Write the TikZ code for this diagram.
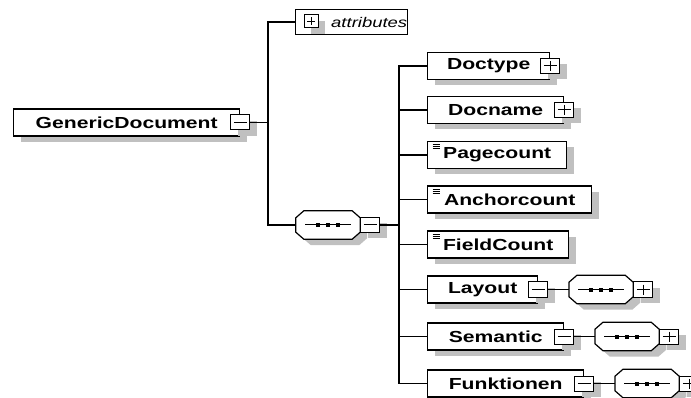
\documentclass[tikz,border=0pt]{standalone}
\usepackage{fontspec}
\newfontfamily\xsdfont[FakeStretch=1.32]{Liberation Sans}
\usetikzlibrary{positioning, shadows}
\definecolor{shadowgray}{HTML}{C0C0C0}

\tikzset{
  xsdshadow/.style={drop shadow={shadow xshift=7pt, shadow yshift=-6pt, fill=shadowgray, opacity=1}},
  element/.style={draw, line width=1.4pt, fill=white, anchor=west, minimum height=27pt,
    inner sep=0pt, font=\xsdfont\fontsize{16}{18}\selectfont\bfseries, xsdshadow},
  minusbox/.style={draw, line width=1pt, fill=white, minimum width=19pt, minimum height=15pt,
    inner sep=0pt, xsdshadow,
    path picture={\draw[line width=1pt] ([xshift=3pt]path picture bounding box.west)
      -- ([xshift=-3pt]path picture bounding box.east);}},
  plusbox/.style={draw, line width=1pt, fill=white, minimum width=19pt, minimum height=15pt,
    inner sep=0pt, xsdshadow,
    path picture={\draw[line width=1pt] ([xshift=3pt]path picture bounding box.west)
      -- ([xshift=-3pt]path picture bounding box.east);
      \draw[line width=1pt] ([yshift=-2.5pt]path picture bounding box.north)
      -- ([yshift=2.5pt]path picture bounding box.south);}},
  seqgroup/.style={minimum width=64pt, minimum height=28pt, inner sep=0pt},
  simpletype/.style={path picture={\foreach \dy in {3,5,7}
      \draw[line width=0.6pt] ([xshift=5pt,yshift=-\dy pt]path picture bounding box.north west) -- ++(7,0);}},
  link/.style={line width=1.2pt}
}

% octagon outline of a sequence compositor
\newcommand\octpath[1]{([yshift=-7pt]#1.north west) -- ([xshift=8pt]#1.north west)
  -- ([xshift=-8pt]#1.north east) -- ([yshift=-7pt]#1.north east)
  -- ([yshift=7pt]#1.south east) -- ([xshift=-8pt]#1.south east)
  -- ([xshift=8pt]#1.south west) -- ([yshift=7pt]#1.south west) -- cycle}
\newcommand\seqframe[1]{%
  \fill[shadowgray, transform canvas={shift={(7pt,-6pt)}}] \octpath{#1};
  \filldraw[fill=white, line width=1.2pt] \octpath{#1};
  \draw[line width=1pt] ([xshift=-23pt]#1.center) -- ([xshift=23pt]#1.center);
  \foreach \dx in {-10,0,10}
    \fill[black] ([xshift=\dx pt]#1.center) +(-2.2,-2) rectangle +(2.2,2);}

\begin{document}
\begin{tikzpicture}[x=1pt, y=-1pt]
  \useasboundingbox (0,0) rectangle (691,398);
  \clip (0,0) rectangle (691,398);

  % root element
  \node[element, minimum width=226pt] (gendoc) at (13,122.5) {GenericDocument};
  \node[minusbox] (gendocx) at (gendoc.east) {};
  \coordinate (t1) at (268,122.5);

  % attributes
  \node[draw, line width=1pt, fill=white, anchor=west, minimum width=112pt, minimum height=25pt] (attr) at (295,22) {};
  \node[plusbox, minimum width=14pt, minimum height=13pt, xsdshadow/.style={}] (attrx) at (311,21.5) {};
  \node[anchor=west, inner sep=0pt, font=\xsdfont\fontsize{14}{16}\selectfont\itshape] (attrlbl) at (331,22) {attributes};

  % sequence
  \node[seqgroup] (seq) at (328,225) {};
  \seqframe{seq}
  \node[minusbox, right=0pt of seq] (seqx) {};
  \coordinate (t2) at (399,225);

  % children
  \node[element, minimum width=122pt] (doctype) at (427,66) {Doctype};
  \node[plusbox] (doctypex) at (doctype.east) {};
  \node[element, minimum width=136pt] (docname) at (427,110) {Docname};
  \node[plusbox] (docnamex) at (docname.east) {};
  \node[element, simpletype, minimum width=139pt] (pagecount) at (427,155) {Pagecount};
  \node[element, simpletype, minimum width=164pt] (anchorcount) at (427,199.5) {Anchorcount};
  \node[element, simpletype, minimum width=141pt] (fieldcount) at (427,244.5) {FieldCount};

  \node[element, minimum width=110pt] (layout) at (427,289.5) {Layout};
  \node[minusbox] (layoutx) at (layout.east) {};
  \node[seqgroup, right=20.5pt of layoutx] (layoutseq) {};
  \seqframe{layoutseq}
  \node[plusbox, right=0pt of layoutseq] (layoutseqx) {};

  \node[element, minimum width=136pt] (semantic) at (427,336.5) {Semantic};
  \node[minusbox] (semanticx) at (semantic.east) {};
  \node[seqgroup, right=20.5pt of semanticx] (semanticseq) {};
  \seqframe{semanticseq}
  \node[plusbox, right=0pt of semanticseq] (semanticseqx) {};

  \node[element, minimum width=156pt] (funktionen) at (427,383.5) {Funktionen};
  \node[minusbox] (funktionenx) at (funktionen.east) {};
  \node[seqgroup, right=20.5pt of funktionenx] (funktionenseq) {};
  \seqframe{funktionenseq}
  \node[plusbox, right=0pt of funktionenseq] (funktionenseqx) {};

  % connectors
  \draw[link] (gendocx.east) -- (t1);
  \draw[link] (attr.west) -| (t1);
  \draw[link] (seq.west) -| (t1);
  \draw[link] (seqx.east) -- (t2);
  \foreach \n in {doctype, docname, pagecount, anchorcount, fieldcount, layout, semantic, funktionen}
    \draw[link] (\n.west) -| (t2);
  \draw[link] (layoutx.east) -- (layoutseq.west);
  \draw[link] (semanticx.east) -- (semanticseq.west);
  \draw[link] (funktionenx.east) -- (funktionenseq.west);
\end{tikzpicture}
\end{document}
